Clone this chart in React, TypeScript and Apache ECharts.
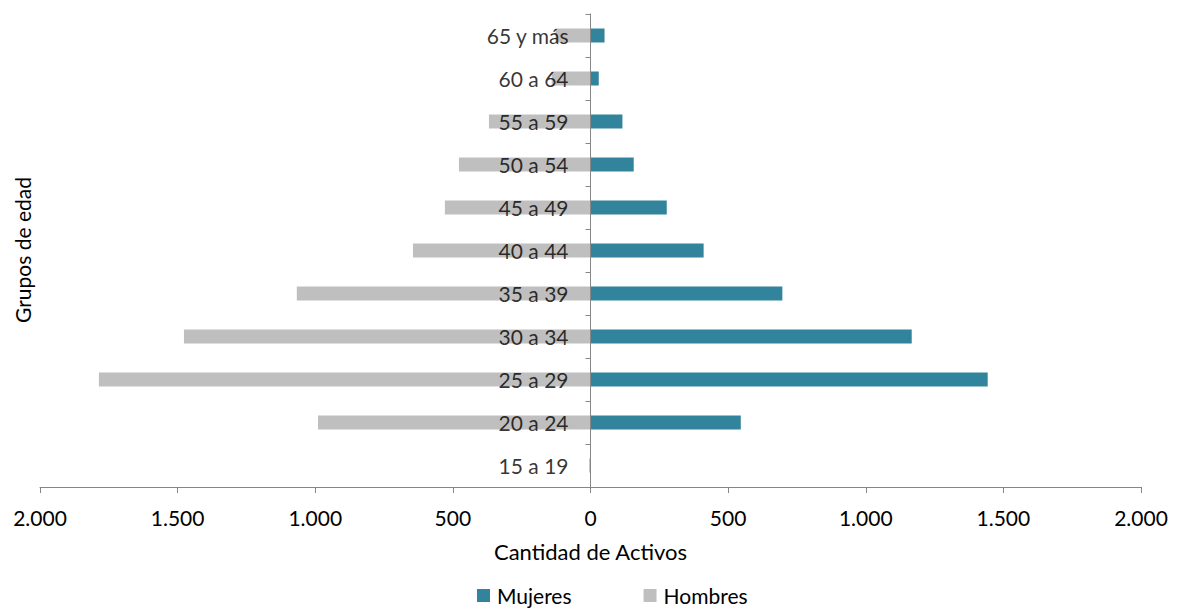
import React, { useEffect, useRef } from "react";
import * as echarts from "echarts";

const categories = ["15 a 19", "20 a 24", "25 a 29", "30 a 34", "35 a 39", "40 a 44", "45 a 49", "50 a 54", "55 a 59", "60 a 64", "65 y más"];
const mujeres = [1, 546, 1443, 1167, 697, 411, 277, 157, 116, 30, 51];
const hombres = [5, 990, 1786, 1477, 1067, 645, 529, 478, 369, 141, 127];
const xTicks = { min: -2000, max: 2000, interval: 500 };

const FONT = "Lato, 'Open Sans', sans-serif";

function fmt(v: number): string {
  const a = Math.abs(v);
  return a.toString().replace(/\B(?=(\d{3})+(?!\d))/g, ".");
}

export default function App() {
  const ref = useRef<HTMLDivElement>(null);
  useEffect(() => {
    if (!ref.current) return;
    const chart = echarts.init(ref.current, null, { renderer: "svg" });
    chart.setOption({
      animation: false,
      backgroundColor: "#ffffff",
      textStyle: { fontFamily: FONT },
      grid: { left: 40, right: 36, top: 14, bottom: 125, containLabel: false, outerBoundsMode: "none" },
      legend: {
        top: 585,
        left: 477,
        padding: 0,
        itemWidth: 13,
        itemHeight: 13,
        itemGap: 72,
        icon: "rect",
        textStyle: { fontFamily: FONT, fontSize: 21, color: "#000", padding: [0, 0, 0, 2] },
        data: ["Mujeres", "Hombres"],
      },
      xAxis: {
        type: "value",
        min: xTicks.min,
        max: xTicks.max,
        interval: xTicks.interval,
        splitLine: { show: false },
        axisLine: { show: true, lineStyle: { color: "#868686", width: 1 } },
        axisTick: { show: true, length: 6, lineStyle: { color: "#868686" } },
        axisLabel: { fontFamily: FONT, fontSize: 21, color: "#000", margin: 20, formatter: (v: number) => fmt(v) },
        name: "Cantidad de Activos",
        nameLocation: "middle",
        nameGap: 53,
        nameTextStyle: { fontFamily: FONT, fontSize: 22, color: "#000" },
      },
      yAxis: {
        type: "category",
        data: categories,
        z: 10,
        axisLine: { show: true, onZero: true, lineStyle: { color: "#868686", width: 1 } },
        axisTick: { show: true, length: 5, lineStyle: { color: "#868686" } },
        axisLabel: { show: false },
      },
      graphic: [
        {
          type: "text",
          x: 22,
          y: 250,
          rotation: Math.PI / 2,
          style: {
            text: "Grupos de edad",
            fontFamily: FONT,
            fontSize: 21,
            fill: "#000",
            align: "center",
            verticalAlign: "middle",
          },
        },
      ],
      series: [
        {
          name: "Mujeres",
          type: "bar",
          data: mujeres,
          barWidth: 14,
          barGap: "-100%",
          itemStyle: { color: "#31849B" },
        },
        {
          name: "Hombres",
          type: "bar",
          data: hombres.map((v) => -v),
          barWidth: 14,
          barGap: "-100%",
          itemStyle: { color: "#BFBFBF" },
        },
        {
          name: "etiquetas",
          type: "scatter",
          z: 10,
          symbolSize: 0,
          silent: true,
          data: categories.map((c) => [0, c]),
          label: {
            show: true,
            position: "left",
            distance: 22,
            fontFamily: FONT,
            fontSize: 21,
            color: "#000",
            formatter: (p: any) => p.value[1],
          },
        },
      ],
    });
    return () => chart.dispose();
  }, []);
  return <div ref={ref} style={{ position: "fixed", left: 0, top: 0, width: 1177, height: 612 }} />;
}
